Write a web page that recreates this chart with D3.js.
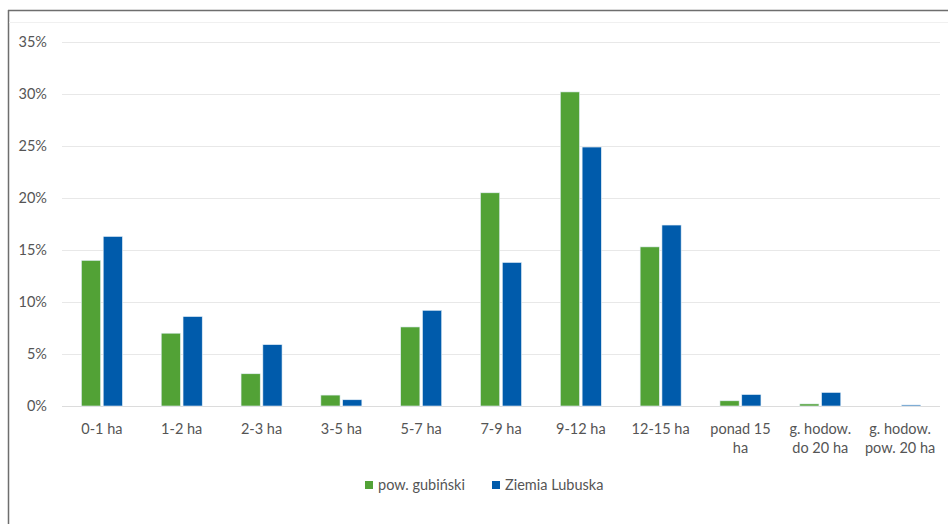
<!DOCTYPE html>
<html>
<head>
<meta charset="utf-8">
<script src="https://cdn.jsdelivr.net/npm/d3@7"></script>
<style>
  body { margin: 0; background: #fff; }
  text { font-family: Lato, "Open Sans", sans-serif; fill: #555; }
</style>
</head>
<body>
<svg id="chart" width="948" height="524"></svg>
<script>
// categories (x labels, may wrap to two lines)
const categories = ["0-1 ha", "1-2 ha", "2-3 ha", "3-5 ha", "5-7 ha", "7-9 ha", "9-12 ha",
  "12-15 ha", "ponad 15 ha", "g. hodow. do 20 ha", "g. hodow. pow. 20 ha"];
const labelLines = [["0-1 ha"], ["1-2 ha"], ["2-3 ha"], ["3-5 ha"], ["5-7 ha"], ["7-9 ha"], ["9-12 ha"],
  ["12-15 ha"], ["ponad 15", "ha"], ["g. hodow.", "do 20 ha"], ["g. hodow.", "pow. 20 ha"]];
const seriesNames = ["pow. gubiński", "Ziemia Lubuska"];
const gubinski = [14.0, 7.0, 3.1, 1.05, 7.6, 20.5, 30.2, 15.3, 0.5, 0.2, 0.0];
const lubuska = [16.3, 8.6, 5.9, 0.6, 9.2, 13.8, 24.9, 17.4, 1.1, 1.3, 0.1];
const yTicks = [0, 5, 10, 15, 20, 25, 30, 35];
const colors = ["#52a236", "#005bab"];

const svg = d3.select('#chart');

// frame of the original picture
svg.append('line').attr('x1', 8).attr('x2', 948).attr('y1', 10.5).attr('y2', 10.5)
  .attr('stroke', '#6e6e6e').attr('stroke-width', 1.5);
svg.append('line').attr('x1', 8.5).attr('x2', 8.5).attr('y1', 10).attr('y2', 524)
  .attr('stroke', '#6e6e6e').attr('stroke-width', 1.5);
svg.append('line').attr('x1', 9).attr('x2', 948).attr('y1', 22.5).attr('y2', 22.5)
  .attr('stroke', '#f0f0f0');

let plotLeft = 62, plotRight = 940, plotTop = 42, plotBottom = 406;

let xScale = d3.scaleBand()
  .domain(categories)
  .range([plotLeft, plotRight]);

let inner = d3.scaleBand()
  .domain(seriesNames)
  .range([0, 41])
  .paddingInner(0.12);

let yScale = d3.scaleLinear()
  .domain([0, 35])
  .range([plotBottom, plotTop]);

// gridlines
svg.append('g').selectAll('line')
  .data(yTicks).enter().append('line')
  .attr('x1', plotLeft).attr('x2', plotRight)
  .attr('y1', d => Math.round(yScale(d)) + 0.5)
  .attr('y2', d => Math.round(yScale(d)) + 0.5)
  .attr('stroke', d => d === 0 ? '#dcdcdc' : '#e8e8e8')
  .attr('stroke-width', 1.2);

// y labels
svg.append('g').selectAll('text')
  .data(yTicks).enter().append('text')
  .attr('x', 47)
  .attr('y', d => yScale(d))
  .attr('dy', '0.35em')
  .attr('text-anchor', 'end')
  .style('font-size', '14.5px')
  .text(d => d + '%');

// bars
const series = [gubinski, lubuska];
series.forEach(function(vals, s) {
  svg.append('g').selectAll('rect')
    .data(vals).enter().append('rect')
    .attr('x', (d, i) => xScale(categories[i]) + (xScale.bandwidth() - 41) / 2 + inner(seriesNames[s]))
    .attr('width', inner.bandwidth())
    .attr('y', d => yScale(d))
    .attr('height', d => plotBottom - yScale(d))
    .attr('fill', colors[s])
    .attr('stroke', d => d > 0.05 ? '#e3eef7' : 'none')
    .attr('stroke-width', 0.6);
});

// x labels
let xl = svg.append('g').selectAll('text')
  .data(labelLines).enter().append('text')
  .attr('text-anchor', 'middle')
  .style('font-size', '14.5px')
  .attr('x', (d, i) => xScale(categories[i]) + xScale.bandwidth() / 2)
  .attr('y', 434);
xl.selectAll('tspan')
  .data(d => d).enter().append('tspan')
  .attr('x', function() { return d3.select(this.parentNode).attr('x'); })
  .attr('dy', (d, j) => j === 0 ? 0 : 19)
  .text(d => d);

// legend
let legendX = [365, 492];
seriesNames.forEach(function(name, s) {
  svg.append('rect')
    .attr('x', legendX[s]).attr('y', 481)
    .attr('width', 8).attr('height', 8)
    .attr('fill', colors[s]);
  svg.append('text')
    .attr('x', legendX[s] + 13).attr('y', 485)
    .attr('dy', '0.35em')
    .style('font-size', '14.5px')
    .text(name);
});
</script>
</body>
</html>
